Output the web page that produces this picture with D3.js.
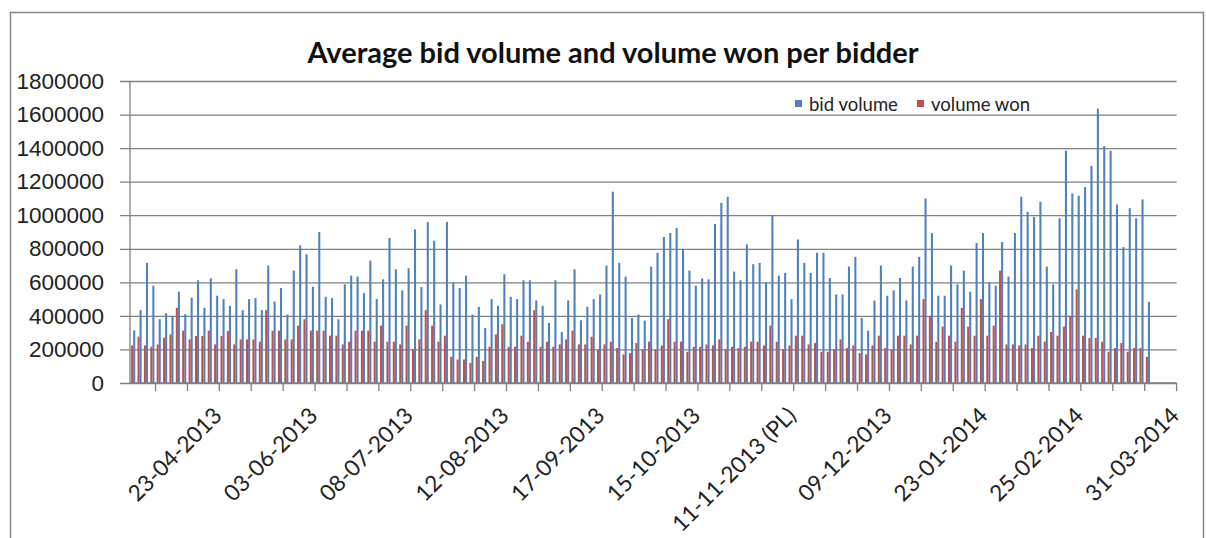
<!DOCTYPE html>
<html>
<head>
<meta charset="utf-8">
<script src="https://cdn.jsdelivr.net/npm/d3@7"></script>
<style>
  body { margin: 0; background: #fff; }
  svg { display: block; font-family: Lato, "Open Sans", sans-serif; }
</style>
</head>
<body>
<svg id="chart" width="1206" height="538"></svg>
<script>
'use strict';

const title = 'Average bid volume and volume won per bidder';
const seriesNames = ['bid volume', 'volume won'];

// one entry per auction
const bidVolume = [
  314000, 434000, 716000, 580000, 380000, 416000, 400000, 544000, 410000, 508000,
  612000, 448000, 624000, 520000, 500000, 460000, 678000, 434000, 500000, 506000,
  434000, 700000, 486000, 566000, 408000, 670000, 820000, 768000, 574000, 900000,
  514000, 506000, 380000, 588000, 640000, 634000, 536000, 730000, 500000, 618000,
  864000, 678000, 552000, 684000, 916000, 572000, 960000, 848000, 468000, 960000,
  598000, 566000, 640000, 408000, 454000, 328000, 500000, 460000, 648000, 514000,
  500000, 612000, 612000, 492000, 460000, 358000, 612000, 304000, 492000, 678000,
  374000, 454000, 500000, 528000, 700000, 1140000, 716000, 634000, 388000, 408000,
  372000, 694000, 776000, 870000, 894000, 924000, 800000, 670000, 580000, 624000,
  618000, 948000, 1074000, 1110000, 664000, 612000, 826000, 708000, 716000, 600000,
  998000, 640000, 656000, 500000, 856000, 716000, 656000, 776000, 776000, 626000,
  528000, 528000, 694000, 752000, 388000, 312000, 492000, 700000, 520000, 552000,
  626000, 492000, 694000, 752000, 1100000, 894000, 520000, 520000, 700000, 588000,
  670000, 544000, 834000, 894000, 598000, 580000, 840000, 634000, 894000, 1110000,
  1020000, 990000, 1080000, 694000, 588000, 982000, 1384000, 1130000, 1116000, 1168000,
  1294000, 1636000, 1412000, 1384000, 1064000, 810000, 1042000, 982000, 1094000, 484000
];

const volumeWon = [
  224000, 276000, 224000, 216000, 230000, 270000, 290000, 448000, 312000, 260000,
  280000, 280000, 312000, 230000, 280000, 310000, 230000, 260000, 260000, 260000,
  246000, 434000, 312000, 312000, 260000, 260000, 342000, 380000, 312000, 312000,
  312000, 282000, 282000, 230000, 246000, 312000, 312000, 312000, 246000, 342000,
  246000, 246000, 230000, 342000, 200000, 260000, 434000, 342000, 246000, 282000,
  156000, 140000, 140000, 120000, 156000, 132000, 216000, 290000, 350000, 216000,
  216000, 282000, 246000, 434000, 216000, 246000, 216000, 230000, 260000, 312000,
  230000, 230000, 276000, 200000, 230000, 246000, 208000, 170000, 178000, 238000,
  200000, 246000, 200000, 224000, 380000, 246000, 246000, 186000, 216000, 216000,
  230000, 224000, 260000, 200000, 216000, 208000, 216000, 246000, 246000, 224000,
  342000, 246000, 200000, 224000, 282000, 282000, 230000, 238000, 186000, 186000,
  200000, 260000, 208000, 224000, 178000, 170000, 224000, 282000, 208000, 200000,
  282000, 282000, 230000, 282000, 500000, 400000, 246000, 336000, 282000, 246000,
  448000, 336000, 282000, 500000, 282000, 342000, 670000, 230000, 230000, 224000,
  230000, 208000, 282000, 246000, 304000, 282000, 336000, 400000, 558000, 282000,
  268000, 268000, 246000, 186000, 208000, 238000, 186000, 208000, 208000, 156000
];

// the axis has a few trailing empty categories
const categoryCount = 164;
const dateLabels = [
  '23-04-2013', '03-06-2013', '08-07-2013', '12-08-2013', '17-09-2013', '15-10-2013',
  '11-11-2013 (PL)', '09-12-2013', '23-01-2014', '25-02-2014', '31-03-2014'
];
const dateLabelIndex = [13, 28, 43, 58, 73, 88, 103, 118, 133, 148, 163];
const yTicks = [0, 200000, 400000, 600000, 800000, 1000000, 1200000, 1400000, 1600000, 1800000];

const colors = ['#4f81bd', '#c0504d'];

const plot = { left: 130, right: 1176.6, top: 81, bottom: 383 };

const svg = d3.select('#chart');

// chart border
svg.append('rect')
  .attr('x', 10.5)
  .attr('y', 12.5)
  .attr('width', 1193)
  .attr('height', 540)
  .attr('fill', '#fff')
  .attr('stroke', '#868686')
  .attr('stroke-width', 1.5);

const x = d3.scaleBand()
  .domain(d3.range(categoryCount))
  .range([plot.left, plot.right])
  .paddingInner(0)
  .paddingOuter(0);

const y = d3.scaleLinear()
  .domain([0, 1800000])
  .range([plot.bottom, plot.top]);

const step = x.step();
const barW = step / 3.1;
const groupOffset = (step - 2 * barW) / 2;

// gridlines + y axis
const yAxis = d3.axisLeft(y)
  .tickValues(yTicks)
  .tickSize(plot.right - plot.left + 10)
  .tickFormat(d => d);

const yg = svg.append('g')
  .attr('transform', `translate(${plot.right}, 0)`)
  .call(yAxis);

yg.select('.domain').remove();
yg.selectAll('.tick line')
  .attr('stroke', '#808080')
  .attr('stroke-width', 1.3);
yg.selectAll('.tick text')
  .attr('x', -(plot.right - plot.left) - 26)
  .attr('fill', '#222')
  .attr('font-size', 22.5);

svg.append('line')
  .attr('x1', plot.left)
  .attr('x2', plot.left)
  .attr('y1', plot.top)
  .attr('y2', plot.bottom)
  .attr('stroke', '#808080')
  .attr('stroke-width', 1.3);

// bars
const series = [bidVolume, volumeWon];

series.forEach((values, s) => {
  // red sits on the left, blue on the right
  const shift = s === 1 ? 0 : barW;

  svg.append('g')
    .selectAll('rect')
    .data(values)
    .enter()
    .append('rect')
    .attr('x', (d, i) => x(i) + groupOffset + shift)
    .attr('width', barW)
    .attr('y', d => y(d))
    .attr('height', d => plot.bottom - y(d))
    .attr('fill', colors[s]);
});

// category axis
const tickIndex = d3.range(4, categoryCount + 1, 5);

const xg = svg.append('g');

xg.append('line')
  .attr('x1', plot.left)
  .attr('x2', plot.right)
  .attr('y1', plot.bottom)
  .attr('y2', plot.bottom)
  .attr('stroke', '#808080')
  .attr('stroke-width', 1.3);

xg.selectAll('.tick')
  .data(tickIndex)
  .enter()
  .append('line')
  .attr('class', 'tick')
  .attr('x1', d => plot.left + d * step)
  .attr('x2', d => plot.left + d * step)
  .attr('y1', plot.bottom)
  .attr('y2', plot.bottom + 8)
  .attr('stroke', '#808080')
  .attr('stroke-width', 1.3);

xg.selectAll('.label')
  .data(dateLabels)
  .enter()
  .append('text')
  .attr('class', 'label')
  .attr('text-anchor', 'end')
  .attr('font-size', 22.5)
  .attr('fill', '#222')
  .attr('transform', (d, i) => {
    const cx = x(dateLabelIndex[i]) + step / 2 + 7;
    return `translate(${cx}, ${plot.bottom + 34}) rotate(-45)`;
  })
  .text(d => d);

// title
svg.append('text')
  .attr('x', 613)
  .attr('y', 63)
  .attr('text-anchor', 'middle')
  .attr('font-size', 29)
  .attr('font-weight', 'bold')
  .attr('fill', '#111')
  .text(title);

// legend
const legend = svg.append('g')
  .attr('transform', 'translate(795, 100)');

const legendX = [0, 122];

legend.selectAll('rect')
  .data(seriesNames)
  .enter()
  .append('rect')
  .attr('x', (d, i) => legendX[i])
  .attr('y', 0)
  .attr('width', 7)
  .attr('height', 7)
  .attr('fill', (d, i) => colors[i]);

legend.selectAll('text')
  .data(seriesNames)
  .enter()
  .append('text')
  .attr('x', (d, i) => legendX[i] + 14)
  .attr('y', 11)
  .attr('font-size', 18.5)
  .attr('fill', '#222')
  .text(d => d);
</script>
</body>
</html>
